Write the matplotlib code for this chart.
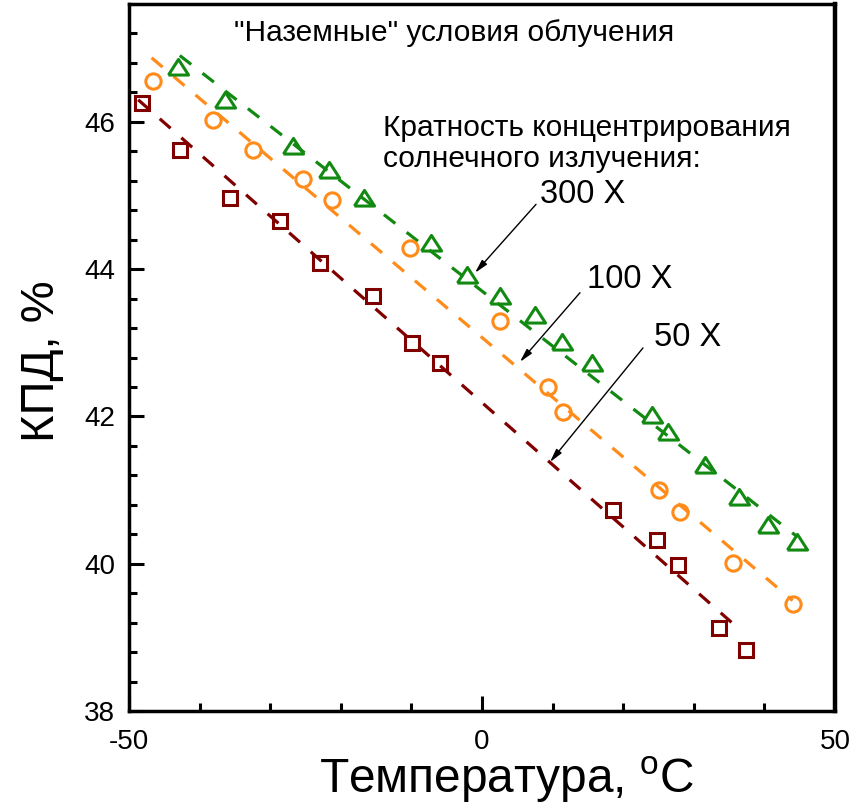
import matplotlib
matplotlib.use('Agg')
import matplotlib.pyplot as plt
from matplotlib.ticker import MultipleLocator

plt.rcParams['font.family'] = ['Liberation Sans', 'DejaVu Sans']
plt.rcParams['mathtext.default'] = 'regular'
plt.rcParams['axes.unicode_minus'] = False

# 300 X (green triangles)
t300 = [-43.1, -36.4, -26.8, -21.7, -16.7, -7.2, -2.1, 2.55, 7.5, 11.3, 15.6,
        24.1, 26.3, 31.6, 36.4, 40.5, 44.6]
eff300 = [46.74, 46.30, 45.67, 45.35, 44.96, 44.36, 43.92, 43.63, 43.38, 43.01,
          42.73, 42.02, 41.79, 41.34, 40.91, 40.53, 40.30]
# 100 X (orange circles)
t100 = [-46.6, -38.1, -32.4, -25.4, -21.2, -10.2, 2.55, 9.35, 11.5, 25.1, 28.0,
        35.6, 44.1]
eff100 = [46.55, 46.02, 45.62, 45.23, 44.94, 44.29, 43.29, 42.40, 42.06, 41.00,
          40.70, 40.01, 39.45]
# 50 X (dark red squares)
t50 = [-48.2, -42.8, -35.7, -28.6, -22.9, -15.5, -9.9, -6.0, 18.5, 24.8, 27.7,
       33.6, 37.4]
eff50 = [46.26, 45.62, 44.97, 44.66, 44.09, 43.64, 43.00, 42.73, 40.73, 40.32,
         39.98, 39.12, 38.83]

# dashed trend lines, end points
fit300_x = [-42.8, 44.6]
fit300_y = [46.90, 40.37]
fit100_x = [-46.8, 44.0]
fit100_y = [46.87, 39.50]
fit50_x = [-48.7, 36.8]
fit50_y = [46.30, 39.08]

# labels of the curves: (text, text pos, arrow tail, arrow head)
labels = ['300 X', '100 X', '50 X']
label_pos = [(8.2, 44.90), (14.85, 43.75), (24.4, 42.95)]
arrow_tail = [(7.65, 44.88), (13.88, 43.68), (22.8, 42.93)]
arrow_head = [(-0.99, 43.95), (5.38, 42.74), (9.63, 41.38)]

green = '#128a12'
orange = '#ff8c1a'
darkred = '#800000'

# open triangle, a bit wider than tall like in the source picture
tri = [(-1, -0.75), (1, -0.75), (0, 0.8), (-1, -0.75)]

fig = plt.figure(figsize=(8.67, 8.06), dpi=100)
ax = fig.add_axes([0.1488, 0.1179, 0.9631 - 0.1488, 0.995 - 0.1179])

dash = (0, (4.5, 4.5))
ax.plot(fit300_x, fit300_y, color=green, lw=2.3, linestyle=dash, zorder=2)
ax.plot(fit100_x, fit100_y, color=orange, lw=2.3, linestyle=dash, zorder=2)
ax.plot(fit50_x, fit50_y, color=darkred, lw=2.3, linestyle=dash, zorder=2)

ax.plot(t300, eff300, linestyle='none', marker=tri, ms=14.5, mfc='none',
        mec=green, mew=2.2, zorder=3)
ax.plot(t100, eff100, linestyle='none', marker='o', ms=11, mfc='none',
        mec=orange, mew=2.2, zorder=3)
ax.plot(t50, eff50, linestyle='none', marker='s', ms=10, mfc='none',
        mec=darkred, mew=2.2, zorder=3)

ax.set_xlim(-50, 50)
ax.set_ylim(38, 47.6)
ax.xaxis.set_major_locator(MultipleLocator(50))
ax.xaxis.set_minor_locator(MultipleLocator(10))
ax.yaxis.set_major_locator(MultipleLocator(2))
ax.yaxis.set_minor_locator(MultipleLocator(0.4))
ax.tick_params(which='both', direction='in', width=2.2, top=False, right=False)
ax.tick_params(which='major', length=11, labelsize=20, pad=10)
ax.tick_params(which='minor', length=6)
ax.tick_params(axis='x', which='major', pad=13)
for s in ax.spines.values():
    s.set_linewidth(2.5)
ax.spines['right'].set_linewidth(3.2)

ax.set_xlabel('Температура, $^{o}$C', fontsize=34.5)
ax.xaxis.set_label_coords(0.535, -0.116)
ax.xaxis.label.set_va('baseline')
ax.set_ylabel('КПД, %', fontsize=34)
ax.yaxis.set_label_coords(-0.092, 0.495)

ax.text(-4.0, 47.2, '"Наземные" условия облучения', fontsize=21.5,
        ha='center', va='center')
ax.text(-14.0, 45.92, 'Кратность концентрирования', fontsize=21.5,
        ha='left', va='center')
ax.text(-14.0, 45.49, 'солнечного излучения:', fontsize=21.5,
        ha='left', va='center')

arrow = dict(arrowstyle='-|>,head_length=0.8,head_width=0.2', color='black', lw=1,
             shrinkA=0, shrinkB=0)
for lab, pos, tail, head in zip(labels, label_pos, arrow_tail, arrow_head):
    ax.text(pos[0], pos[1], lab, fontsize=23.5, ha='left', va='baseline')
    ax.annotate('', xy=head, xytext=tail, arrowprops=arrow)

fig.savefig('out.png', dpi=100)
